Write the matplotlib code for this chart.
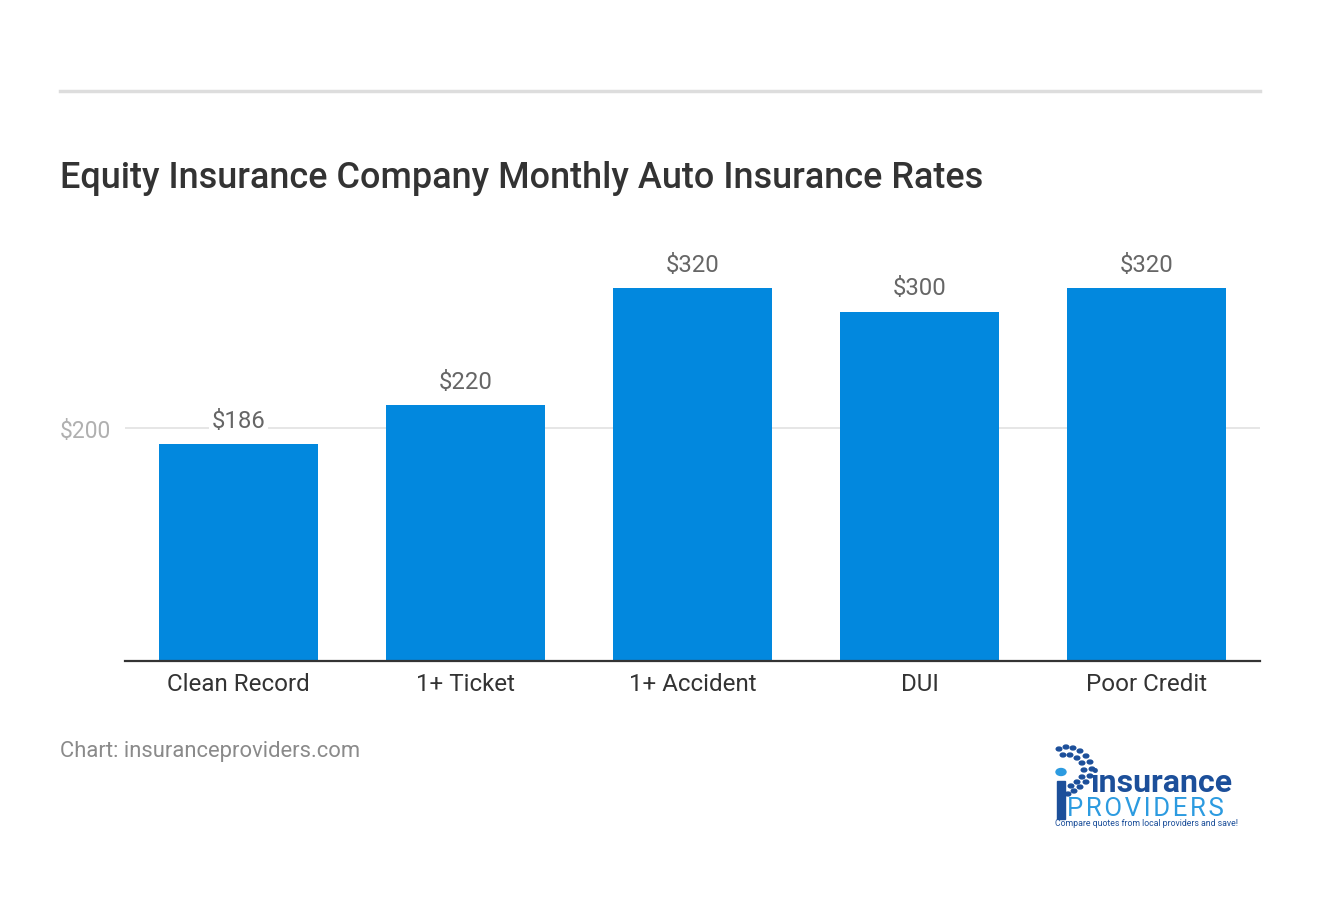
import matplotlib.pyplot as plt
import numpy as np

# Chart data
categories = ["Clean Record", "1+ Ticket", "1+ Accident", "DUI", "Poor Credit"]
rates = [186, 220, 320, 300, 320]
labels = ["$186", "$220", "$320", "$300", "$320"]
y_ticks = [200]
y_tick_labels = ["$200"]

W, H = 1320, 920
plt.rcParams['font.family'] = ['Roboto', 'DejaVu Sans']

fig = plt.figure(figsize=(W / 100, H / 100), dpi=100)


def fx(x):
    return x / W


def fy(y):
    return 1 - y / H


# Axes placed in pixel terms
ax = fig.add_axes([fx(125), fy(662), fx(1260) - fx(125), fy(231) - fy(662)])
x = np.arange(len(categories))
ax.bar(x, rates, width=0.7, color="#0288de", zorder=2)
ax.set_xlim(-0.5, len(categories) - 0.5)
ax.set_ylim(0, 370)

ax.set_yticks(y_ticks)
ax.set_yticklabels(y_tick_labels, fontsize=16.5, color="#b0b0b0")
ax.set_xticks(x)
ax.set_xticklabels(categories, fontsize=17.4, color="#333333")
ax.tick_params(axis='both', length=0)
ax.tick_params(axis='x', pad=8)
ax.tick_params(axis='y', pad=10)
ax.yaxis.grid(True, color="#e2e2e2", lw=1.2, zorder=0)
ax.set_axisbelow(True)
for s in ["top", "right", "left"]:
    ax.spines[s].set_visible(False)
ax.spines["bottom"].set_color("#333333")
ax.spines["bottom"].set_linewidth(1.6)
ax.spines["bottom"].set_zorder(3)

for xi, v, lab in zip(x, rates, labels):
    ax.annotate(lab, (xi, v), xytext=(0, 17), textcoords="offset points",
                ha="center", va="center", fontsize=17.2, color="#666666",
                bbox=dict(boxstyle="square,pad=0.1", fc="white", ec="none"),
                zorder=4)

# Top rule
fig.add_artist(plt.Line2D([fx(60), fx(1260)], [fy(92), fy(92)],
                          color="#dddddd", lw=2.5))

# Title
fig.text(fx(60), fy(179), "Equity Insurance Company Monthly Auto Insurance Rates",
         fontsize=25.9, fontweight="medium", color="#333333", va="center", ha="left")

# Footer
fig.text(fx(60), fy(752), "Chart: insuranceproviders.com", fontsize=15.8,
         color="#8a8a8a", va="center", ha="left")

# Logo (approximation)
dark = "#1c4f9a"
light = "#2c9be0"
dot_pts = [(1059, 750), (1066, 748), (1073, 749), (1080, 752), (1086, 757),
           (1090, 763), (1092, 770), (1090, 777), (1086, 783), (1080, 788),
           (1074, 792), (1068, 795),
           (1063, 756), (1070, 756), (1077, 759), (1082, 764), (1084, 771),
           (1082, 778), (1077, 783), (1071, 787)]
for px_, py_ in dot_pts:
    fig.add_artist(plt.Circle((fx(px_), fy(py_)), 2.8 / W, color=dark,
                              transform=fig.transFigure))
fig.add_artist(plt.Circle((fx(1061), fy(773)), 5 / W, color=light,
                          transform=fig.transFigure))
fig.add_artist(plt.Rectangle((fx(1057), fy(820)), 8 / W, 38 / H, color=dark,
                             transform=fig.transFigure))
fig.text(fx(1090), fy(792), "insurance", fontsize=23, fontweight="bold",
         color=dark, va="baseline", ha="left")
fig.text(fx(1067), fy(816), "\u200a".join("PROVIDERS"), fontsize=18.5,
         color=light, va="baseline", ha="left")
fig.text(fx(1055), fy(824), "Compare quotes from local providers and save!",
         fontsize=6.3, color=dark, va="center", ha="left")

fig.savefig("out.png", dpi=100)
